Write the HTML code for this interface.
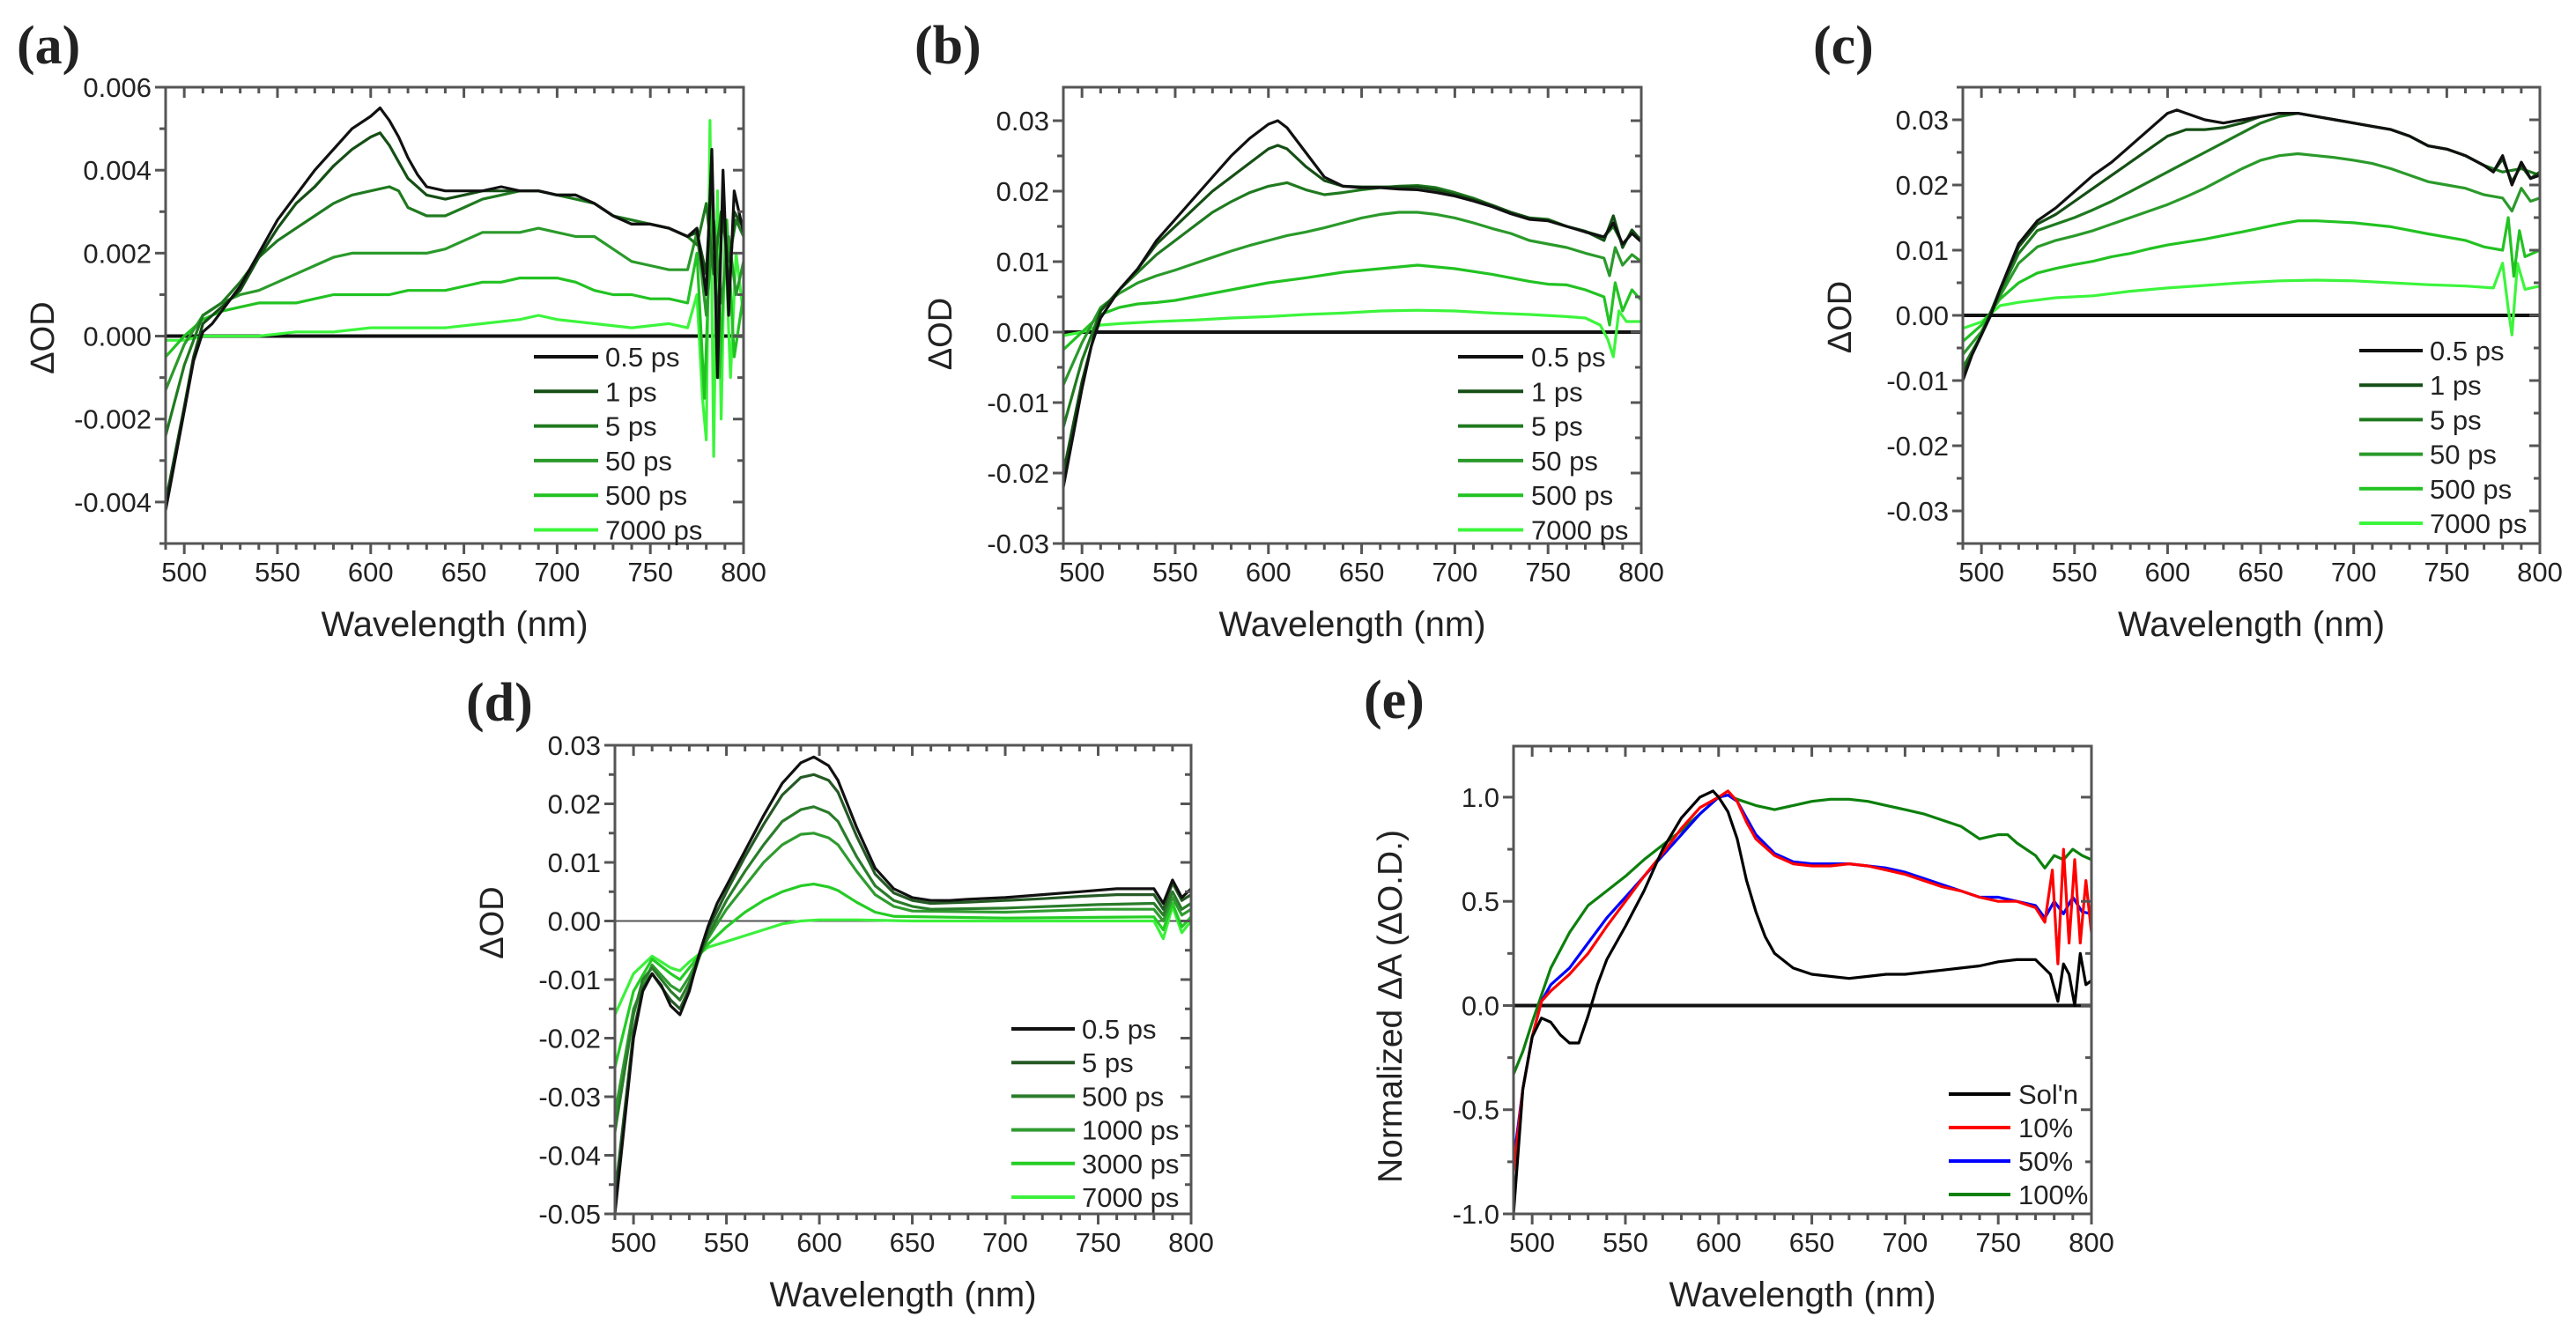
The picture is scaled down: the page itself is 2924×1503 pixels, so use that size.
<!DOCTYPE html>
<html><head><meta charset="utf-8"><style>
html,body{margin:0;padding:0;background:#fff;}
svg{display:block;font-family:"Liberation Sans",Arial,sans-serif;}
</style></head><body>
<svg id="fig" width="2924" height="1503" viewBox="0 0 2924 1503" xmlns="http://www.w3.org/2000/svg"></svg>
<script>
// ---------- DATA ----------
const xTicks = [500,550,600,650,700,750,800];
// Panel (a) — values in units of 1e-3
const aLabels = ["0.5 ps","1 ps","5 ps","50 ps","500 ps","7000 ps"];
const aX0 = [490,495,500,505,510,515,520,530,540,550,560,570,580,590,600,605,610,615,620,625,630,640,650,660,670,680,690,700,710,720,730,740,750,760,770,775,780,783,786,789,792,795,800];
const aY0 = [-4.2,-3.0,-1.8,-0.6,0.1,0.3,0.6,1.2,2.0,2.8,3.4,4.0,4.5,5.0,5.3,5.5,5.2,4.8,4.3,3.9,3.6,3.5,3.5,3.5,3.6,3.5,3.5,3.4,3.4,3.2,2.9,2.7,2.7,2.6,2.4,2.6,1.0,4.5,-1.0,4.0,0.5,3.5,2.5];
const aX1 = [490,500,505,510,520,530,540,550,560,570,580,590,600,605,610,615,620,630,640,650,660,670,680,690,700,710,720,730,740,750,760,770,775,780,783,786,789,792,795,800];
const aY1 = [-4.0,-1.7,-0.5,0.3,0.7,1.1,1.9,2.6,3.2,3.6,4.1,4.5,4.8,4.9,4.6,4.2,3.8,3.4,3.3,3.4,3.5,3.5,3.5,3.5,3.4,3.4,3.2,2.9,2.7,2.7,2.6,2.4,2.5,1.5,4.0,0.0,3.5,1.0,3.0,2.6];
const aX2 = [490,500,510,520,530,540,550,560,570,580,590,600,610,615,620,630,640,650,660,670,680,690,700,710,720,730,740,750,760,770,775,780,784,788,792,796,800];
const aY2 = [-2.4,-0.7,0.5,0.8,1.3,1.9,2.3,2.6,2.9,3.2,3.4,3.5,3.6,3.5,3.1,2.9,2.9,3.1,3.3,3.4,3.5,3.5,3.4,3.3,3.2,2.9,2.8,2.7,2.6,2.4,2.2,3.2,1.5,3.0,1.8,2.8,2.4];
const aX3 = [490,500,510,520,530,540,550,560,570,580,590,600,610,620,630,640,650,660,670,680,690,700,710,720,730,740,750,760,770,775,780,784,788,792,796,800];
const aY3 = [-1.3,-0.2,0.5,0.8,1.0,1.1,1.3,1.5,1.7,1.9,2.0,2.0,2.0,2.0,2.0,2.1,2.3,2.5,2.5,2.5,2.6,2.5,2.4,2.4,2.1,1.8,1.7,1.6,1.6,2.5,0.5,2.8,0.8,2.4,1.0,1.8];
const aX4 = [490,500,510,520,530,540,550,560,570,580,590,600,610,620,630,640,650,660,670,680,690,700,710,720,730,740,750,760,770,775,779,783,787,791,795,800];
const aY4 = [-0.5,0.0,0.4,0.6,0.7,0.8,0.8,0.8,0.9,1.0,1.0,1.0,1.0,1.1,1.1,1.1,1.2,1.3,1.3,1.4,1.4,1.4,1.3,1.1,1.0,1.0,0.9,0.9,0.8,2.0,-1.5,3.5,-1.0,2.8,-0.5,1.0];
const aX5 = [490,500,510,520,540,560,580,600,620,640,660,680,690,700,720,740,760,770,775,778,780,782,784,786,788,790,793,796,800];
const aY5 = [-0.1,-0.1,0.0,0.0,0.0,0.1,0.1,0.2,0.2,0.2,0.3,0.4,0.5,0.4,0.3,0.2,0.3,0.2,1.0,-1.5,-2.5,5.2,-2.9,3.5,-2.0,2.5,-1.0,2.0,0.5];

// Panel (b) — units of 1e-2
const bLabels = ["0.5 ps","1 ps","5 ps","50 ps","500 ps","7000 ps"];
const bX0 = [490,495,500,505,510,520,530,540,550,560,570,580,590,600,605,610,620,630,640,650,660,670,680,690,700,710,720,730,740,750,760,770,780,785,790,795,800];
const bY0 = [-2.2,-1.5,-0.8,-0.2,0.2,0.6,0.9,1.3,1.6,1.9,2.2,2.5,2.75,2.95,3.0,2.9,2.55,2.2,2.07,2.05,2.05,2.03,2.02,1.98,1.93,1.86,1.78,1.68,1.6,1.58,1.5,1.42,1.35,1.55,1.25,1.4,1.28];
const bX1 = [490,500,510,520,530,540,550,560,570,580,590,600,605,610,620,630,640,650,660,670,680,690,700,710,720,730,740,750,760,770,780,785,790,795,800];
const bY1 = [-2.0,-0.7,0.3,0.6,0.9,1.25,1.5,1.75,2.0,2.2,2.4,2.6,2.65,2.6,2.35,2.15,2.07,2.06,2.06,2.06,2.06,2.02,1.95,1.88,1.8,1.7,1.62,1.58,1.5,1.43,1.3,1.65,1.2,1.45,1.3];
const bX2 = [490,500,510,520,530,540,550,560,570,580,590,600,610,620,630,640,650,660,670,680,690,700,710,720,730,740,750,760,770,780,785,790,795,800];
const bY2 = [-1.35,-0.4,0.3,0.6,0.85,1.1,1.3,1.5,1.7,1.85,1.98,2.07,2.12,2.02,1.95,1.98,2.02,2.05,2.07,2.08,2.05,1.98,1.9,1.8,1.7,1.62,1.6,1.5,1.43,1.35,1.5,1.25,1.4,1.3];
const bX3 = [490,500,510,520,530,540,550,560,570,580,590,600,610,620,630,640,650,660,670,680,690,700,710,720,730,740,750,760,770,780,783,786,790,795,800];
const bY3 = [-0.75,-0.15,0.35,0.55,0.7,0.8,0.88,0.97,1.06,1.15,1.23,1.3,1.37,1.42,1.48,1.55,1.62,1.67,1.7,1.7,1.67,1.62,1.55,1.47,1.4,1.3,1.25,1.2,1.12,1.05,0.8,1.2,0.95,1.1,1.0];
const bX4 = [490,500,510,520,530,540,550,560,570,580,590,600,620,640,660,680,700,720,740,750,760,770,780,783,786,790,795,800];
const bY4 = [-0.25,0.0,0.25,0.35,0.4,0.42,0.45,0.5,0.55,0.6,0.65,0.7,0.77,0.85,0.9,0.95,0.9,0.82,0.72,0.68,0.67,0.6,0.5,0.1,0.7,0.3,0.6,0.45];
const bX5 = [490,500,510,520,540,560,580,600,620,640,660,680,700,720,740,760,770,778,782,785,788,792,800];
const bY5 = [-0.05,0.0,0.1,0.12,0.15,0.17,0.2,0.22,0.25,0.27,0.3,0.31,0.3,0.27,0.25,0.22,0.2,0.1,-0.1,-0.35,0.3,0.15,0.15];

// Panel (c) — units of 1e-2
const cLabels = ["0.5 ps","1 ps","5 ps","50 ps","500 ps","7000 ps"];
const cX0 = [490,495,500,505,510,520,530,540,550,560,570,580,590,600,605,610,620,630,640,650,660,670,680,690,700,710,720,730,740,750,760,770,775,780,785,790,795,800];
const cY0 = [-1.0,-0.6,-0.3,0.0,0.4,1.1,1.45,1.65,1.9,2.15,2.35,2.6,2.85,3.1,3.15,3.1,3.0,2.95,3.0,3.05,3.1,3.1,3.05,3.0,2.95,2.9,2.85,2.75,2.6,2.55,2.45,2.3,2.2,2.45,2.0,2.35,2.1,2.15];
const cX1 = [490,500,510,520,530,540,550,560,570,580,590,600,610,620,630,640,650,660,670,680,690,700,710,720,730,740,750,760,770,775,780,785,790,795,800];
const cY1 = [-0.9,-0.3,0.4,1.05,1.4,1.55,1.75,1.95,2.15,2.35,2.55,2.75,2.85,2.85,2.88,2.95,3.05,3.1,3.1,3.05,3.0,2.95,2.9,2.85,2.75,2.6,2.55,2.45,2.3,2.2,2.4,2.05,2.3,2.1,2.2];
const cX2 = [490,500,510,520,530,540,550,560,570,580,590,600,610,620,630,640,650,660,670,680,690,700,710,720,730,740,750,760,770,780,790,800];
const cY2 = [-0.8,-0.3,0.35,0.95,1.3,1.4,1.5,1.62,1.75,1.9,2.05,2.2,2.35,2.5,2.65,2.8,2.95,3.05,3.1,3.05,3.0,2.95,2.9,2.85,2.75,2.6,2.55,2.45,2.3,2.2,2.25,2.15];
const cX3 = [490,500,510,520,530,540,550,560,570,580,590,600,610,620,630,640,650,660,670,680,690,700,710,720,730,740,750,760,770,780,785,790,795,800];
const cY3 = [-0.6,-0.25,0.3,0.8,1.05,1.15,1.22,1.3,1.4,1.5,1.6,1.7,1.82,1.95,2.1,2.25,2.38,2.45,2.48,2.45,2.42,2.38,2.33,2.25,2.15,2.05,2.0,1.95,1.85,1.8,1.6,1.95,1.75,1.8];
const cX4 = [490,500,510,520,530,540,550,560,570,580,590,600,620,640,660,670,680,700,720,740,760,770,780,783,786,789,792,800];
const cY4 = [-0.4,-0.15,0.25,0.5,0.65,0.72,0.78,0.83,0.9,0.95,1.02,1.08,1.17,1.28,1.4,1.45,1.45,1.42,1.36,1.25,1.15,1.05,1.0,1.5,0.6,1.3,0.9,1.0];
const cX5 = [490,500,510,520,540,560,580,600,620,640,660,680,700,720,740,760,775,780,783,785,788,792,800];
const cY5 = [-0.2,-0.1,0.15,0.2,0.27,0.3,0.37,0.42,0.46,0.5,0.53,0.54,0.53,0.5,0.47,0.45,0.42,0.8,0.1,-0.3,0.8,0.4,0.45];

// Panel (d) — units of 1e-2
const dLabels = ["0.5 ps","5 ps","500 ps","1000 ps","3000 ps","7000 ps"];
const dX0 = [490,495,500,505,510,515,520,525,530,535,540,545,550,560,570,580,590,597,605,610,620,630,640,650,660,670,680,700,720,740,760,780,785,790,795,800];
const dY0 = [-5.0,-3.5,-2.0,-1.2,-0.9,-1.1,-1.45,-1.6,-1.2,-0.6,-0.1,0.3,0.6,1.2,1.8,2.35,2.7,2.8,2.65,2.4,1.6,0.9,0.55,0.4,0.35,0.35,0.37,0.4,0.45,0.5,0.55,0.55,0.3,0.7,0.4,0.55];
const dX1 = [490,500,505,510,520,525,530,540,550,560,570,580,590,597,605,610,620,630,640,650,660,680,700,720,740,760,780,785,790,795,800];
const dY1 = [-4.7,-1.9,-1.15,-0.9,-1.35,-1.5,-1.15,-0.15,0.5,1.1,1.65,2.15,2.45,2.5,2.4,2.2,1.45,0.8,0.48,0.35,0.3,0.32,0.35,0.38,0.42,0.45,0.45,0.2,0.65,0.35,0.45];
const dX2 = [490,500,505,510,520,525,530,540,550,560,570,580,590,597,605,610,620,630,640,650,660,700,750,780,785,790,795,800];
const dY2 = [-3.6,-1.6,-1.0,-0.8,-1.2,-1.35,-1.05,-0.25,0.35,0.85,1.3,1.7,1.9,1.95,1.85,1.7,1.1,0.6,0.35,0.25,0.2,0.22,0.28,0.3,0.1,0.5,0.2,0.3];
const dX3 = [490,500,510,520,525,530,540,550,560,570,580,590,597,605,610,620,630,640,650,700,750,780,785,790,795,800];
const dY3 = [-3.3,-1.5,-0.75,-1.1,-1.2,-0.95,-0.3,0.2,0.6,1.0,1.3,1.48,1.5,1.42,1.3,0.85,0.45,0.25,0.17,0.15,0.2,0.2,0.0,0.4,0.1,0.2];
const dX4 = [490,500,510,520,525,530,540,550,560,570,580,590,597,605,610,620,630,640,700,780,785,790,795,800];
const dY4 = [-2.5,-1.2,-0.65,-0.9,-1.0,-0.8,-0.4,-0.1,0.15,0.35,0.5,0.6,0.63,0.58,0.52,0.32,0.15,0.08,0.05,0.07,-0.15,0.3,-0.1,0.07];
const dX5 = [490,500,510,520,525,530,540,550,560,570,580,590,600,620,650,700,780,785,790,795,800];
const dY5 = [-1.6,-0.9,-0.6,-0.8,-0.85,-0.7,-0.45,-0.35,-0.25,-0.15,-0.05,0.0,0.02,0.02,0.0,0.0,0.0,-0.3,0.25,-0.2,0.0];

// Panel (e) — normalized
const eLabels = ["Sol'n","10%","50%","100%"];
const eX0 = [490,495,500,505,510,515,520,525,530,535,540,550,560,570,580,590,597,600,605,610,615,620,625,630,640,650,660,670,680,690,700,710,720,730,740,750,760,770,778,782,785,788,791,794,797,800];
const eY0 = [-1.0,-0.4,-0.15,-0.06,-0.08,-0.14,-0.18,-0.18,-0.05,0.1,0.22,0.38,0.55,0.75,0.9,1.0,1.03,1.0,0.93,0.8,0.6,0.45,0.33,0.25,0.18,0.15,0.14,0.13,0.14,0.15,0.15,0.16,0.17,0.18,0.19,0.21,0.22,0.22,0.15,0.02,0.2,0.15,0.0,0.25,0.1,0.12];
const eX1 = [490,495,500,505,510,520,530,540,550,560,570,580,590,600,605,610,615,620,630,640,650,660,670,680,690,700,710,720,730,740,750,760,770,775,779,782,785,788,791,794,797,800];
const eY1 = [-0.8,-0.4,-0.15,0.02,0.07,0.15,0.25,0.38,0.5,0.62,0.73,0.85,0.95,1.0,1.03,0.98,0.88,0.8,0.72,0.68,0.67,0.67,0.68,0.67,0.65,0.63,0.6,0.57,0.55,0.52,0.5,0.5,0.47,0.4,0.65,0.2,0.75,0.3,0.7,0.3,0.6,0.35];
const eX2 = [490,495,500,505,510,520,530,540,550,560,570,580,590,600,605,610,615,620,630,640,650,660,670,680,690,700,710,720,730,740,750,760,770,775,780,785,790,795,800];
const eY2 = [-0.75,-0.4,-0.15,0.02,0.1,0.18,0.3,0.42,0.52,0.62,0.72,0.82,0.92,1.0,1.01,0.98,0.9,0.82,0.73,0.69,0.68,0.68,0.68,0.67,0.66,0.64,0.61,0.58,0.55,0.52,0.52,0.5,0.48,0.42,0.5,0.44,0.52,0.45,0.44];
const eX3 = [490,495,500,505,510,520,530,540,550,560,570,580,590,600,605,610,620,630,640,650,660,670,680,690,700,710,720,730,740,750,755,760,770,775,780,785,790,795,800];
const eY3 = [-0.33,-0.22,-0.08,0.05,0.18,0.35,0.48,0.55,0.62,0.7,0.77,0.84,0.92,1.0,1.01,0.99,0.96,0.94,0.96,0.98,0.99,0.99,0.98,0.96,0.94,0.92,0.89,0.86,0.8,0.82,0.82,0.78,0.72,0.66,0.72,0.7,0.75,0.72,0.7];

// ---------- RENDER ----------
const NS = "http://www.w3.org/2000/svg";
const svg = document.getElementById('fig');
function mk(tag, attrs, parent){ const e=document.createElementNS(NS,tag); for(const k in attrs) e.setAttribute(k,attrs[k]); (parent||svg).appendChild(e); return e; }

const greens6 = ["#111111","#154f15","#1f7a1f","#2a9a2a","#22c222","#3cf53c"];
const greensD = ["#111111","#255a25","#2a7c2a","#2f9b2f","#25cc25","#3cf03c"];
const eColors = ["#000000","#ff0000","#0000ff","#0c800c"];

const panels = [
 {id:"a", L:188,R:844,T:99,B:617, ymin:-5,ymax:6, yt:[-4,-2,0,2,4,6], ymin2:1, fmt:v=>(v/1000).toFixed(3),
  ylab:"ΔOD", lab:"(a)", labX:19, labY:72, xs:[aX0,aX1,aX2,aX3,aX4,aX5], ys:[aY0,aY1,aY2,aY3,aY4,aY5], names:aLabels, cols:greens6,
  legL:606, legR:679, legT:687, legY0:405, legDy:39.3, zero:"thick"},
 {id:"b", L:1207,R:1863,T:99,B:617, ymin:-3,ymax:3.475, yt:[-3,-2,-1,0,1,2,3], ymin2:0.5, fmt:v=>(v/100).toFixed(2),
  ylab:"ΔOD", lab:"(b)", labX:1038, labY:72, xs:[bX0,bX1,bX2,bX3,bX4,bX5], ys:[bY0,bY1,bY2,bY3,bY4,bY5], names:bLabels, cols:greens6,
  legL:1655, legR:1729, legT:1738, legY0:405, legDy:39.3, zero:"thick"},
 {id:"c", L:2228,R:2883,T:99,B:617, ymin:-3.5,ymax:3.5, yt:[-3,-2,-1,0,1,2,3], ymin2:0.5, fmt:v=>(v/100).toFixed(2),
  ylab:"ΔOD", lab:"(c)", labX:2058, labY:72, xs:[cX0,cX1,cX2,cX3,cX4,cX5], ys:[cY0,cY1,cY2,cY3,cY4,cY5], names:cLabels, cols:greens6,
  legL:2678, legR:2750, legT:2758, legY0:398, legDy:39.2, zero:"thick"},
 {id:"d", L:698,R:1352,T:846,B:1378, ymin:-5,ymax:3, yt:[-5,-4,-3,-2,-1,0,1,2,3], ymin2:0.5, fmt:v=>(v/100).toFixed(2),
  ylab:"ΔOD", lab:"(d)", labX:529, labY:818, xs:[dX0,dX1,dX2,dX3,dX4,dX5], ys:[dY0,dY1,dY2,dY3,dY4,dY5], names:dLabels, cols:greensD,
  legL:1148, legR:1220, legT:1228, legY0:1168, legDy:38.2, zero:"thin"},
 {id:"e", L:1718,R:2374,T:847,B:1378, ymin:-1,ymax:1.245, yt:[-1,-0.5,0,0.5,1], ymin2:0.25, fmt:v=>v.toFixed(1),
  ylab:"Normalized ΔA (ΔO.D.)", lab:"(e)", labX:1548, labY:815, xs:[eX0,eX1,eX2,eX3], ys:[eY0,eY1,eY2,eY3], names:eLabels, cols:eColors,
  legL:2212, legR:2282, legT:2291, legY0:1242, legDy:38, zero:"thick"}
];

panels.forEach(p=>{
  const g = mk('g',{});
  
  
  const sx = v => p.L + (v-490)/(800-490)*(p.R-p.L);
  const sy = v => p.B - (v-p.ymin)/(p.ymax-p.ymin)*(p.B-p.T);

  const lab = mk('text',{x:p.labX,y:p.labY,'font-family':'"Liberation Serif",serif','font-weight':'bold','font-size':62,fill:'#222'},g);
  lab.textContent = p.lab;
  
  

  // clip
  const cp = mk('clipPath',{id:'clip'+p.id},g);
  mk('rect',{x:p.L,y:p.T,width:p.R-p.L,height:p.B-p.T},cp);

  // zero line
  const z = mk('line',{x1:p.L,x2:p.R,y1:sy(0),y2:sy(0),stroke:p.zero==="thick"?'#111':'#555','stroke-width':p.zero==="thick"?4:2},g);
  
  

  // series (draw lightest first so dark on top)
  const sg = mk('g',{'clip-path':'url(#clip'+p.id+')'},g);
  for(let i=p.xs.length-1;i>=0;i--){
    const xs=p.xs[i], ys=p.ys[i];
    let d='';
    for(let k=0;k<xs.length;k++) d += (k?'L':'M')+sx(xs[k]).toFixed(1)+','+sy(ys[k]).toFixed(1);
    const path = mk('path',{d:d,fill:'none',stroke:p.cols[i],'stroke-width':3.2,'stroke-linejoin':'round'},sg);
    
    
  }

  // frame
  const fr = mk('rect',{x:p.L,y:p.T,width:p.R-p.L,height:p.B-p.T,fill:'none',stroke:'#555','stroke-width':3},g);
  
  

  // x ticks
  const xg = mk('g',{stroke:'#555','stroke-width':3},g);
  
  
  for(let v=490; v<=800; v+=10){
    const maj = v%50===0, len = maj?12:7, x=sx(v);
    mk('line',{x1:x,x2:x,y1:p.B,y2:p.B+len},xg);
    mk('line',{x1:x,x2:x,y1:p.T,y2:p.T+len},xg);
  }
  xTicks.forEach(v=>{
    const t = mk('text',{x:sx(v),y:p.B+43,'text-anchor':'middle','font-size':31,fill:'#222'},g);
    t.textContent = v;
    
    
  });
  const xt = mk('text',{x:(p.L+p.R)/2,y:p.B+105,'text-anchor':'middle','font-size':40,fill:'#222'},g);
  xt.textContent = 'Wavelength (nm)';
  
  

  // y ticks
  const yg = mk('g',{stroke:'#555','stroke-width':3},g);
  
  
  const step = p.ymin2;
  for(let v=Math.ceil(p.ymin/step-1e-9)*step; v<=p.ymax+1e-9; v+=step){
    const maj = p.yt.some(t=>Math.abs(t-v)<1e-6), len = maj?12:7, y=sy(v);
    mk('line',{x1:p.L-len,x2:p.L,y1:y,y2:y},yg);
    mk('line',{x1:p.R-len,x2:p.R,y1:y,y2:y},yg);
  }
  p.yt.forEach(v=>{
    const t = mk('text',{x:p.L-16,y:sy(v)+11,'text-anchor':'end','font-size':31,fill:'#222'},g);
    t.textContent = p.fmt(v);
    
    
  });
  const ycx = p.L-127, ycy = p.id==='e'? (p.T+p.B)/2+30 : sy(0)+2;
  const yl = mk('text',{x:ycx,y:ycy,'text-anchor':'middle','font-size':p.id==='e'?39:38,fill:'#222',transform:'rotate(-90 '+ycx+' '+ycy+')'},g);
  yl.textContent = p.ylab;
  
  

  // legend
  const lg = mk('g',{},g);
  
  
  p.names.forEach((n,i)=>{
    const y = p.legY0 + i*p.legDy;
    const e = mk('g',{},lg);
    
    
    mk('line',{x1:p.legL,x2:p.legR,y1:y,y2:y,stroke:p.cols[i],'stroke-width':4},e);
    const t = mk('text',{x:p.legT,y:y+11,'font-size':31,fill:'#222'},e);
    t.textContent = n;
  });
});
</script>
</body></html>
